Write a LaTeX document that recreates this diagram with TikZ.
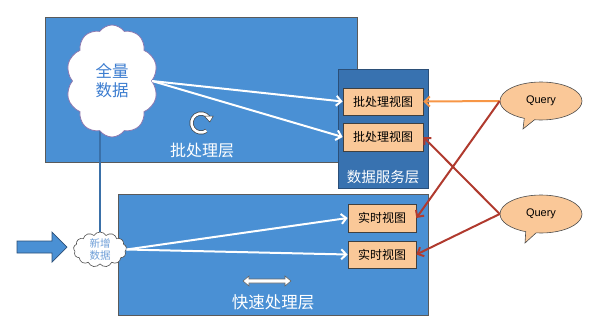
\documentclass[tikz,border=0pt]{standalone}
\usepackage{fontspec}
\setmainfont{Liberation Sans}
\newfontfamily\cjk{Noto Sans CJK SC}
\usetikzlibrary{shapes.symbols,shapes.callouts,arrows.meta}
\definecolor{layerblue}{HTML}{4A90D4}
\definecolor{layerborder}{HTML}{5A5A5A}
\definecolor{servblue}{HTML}{3872B0}
\definecolor{servborder}{HTML}{2B4F78}
\definecolor{peach}{HTML}{FAC898}
\definecolor{qred}{HTML}{B03A2E}
\definecolor{qorange}{HTML}{F79646}
\definecolor{cloudtext}{HTML}{3C7DD0}
\definecolor{smalltext}{HTML}{6F9FD8}
\definecolor{linkblue}{HTML}{3A70A8}
\definecolor{cloudborder}{HTML}{8C78B0}
\pgfdeclarelayer{back}
\pgfdeclarelayer{mid}
\pgfsetlayers{back,mid,main}
\tikzset{
  layer/.style={draw=layerborder, fill=layerblue, line width=0.8pt, anchor=north west, inner sep=0},
  service/.style={draw=servborder, fill=servblue, line width=0.8pt, anchor=north west, inner sep=0},
  view/.style={draw=black!75, fill=peach, line width=0.7pt, inner sep=0, font=\cjk\fontsize{12}{14}\selectfont},
  layertext/.style={text=white, inner sep=0},
  query/.style={ellipse callout, draw=black!70, fill=peach, line width=0.6pt, minimum width=82pt, minimum height=38pt, inner sep=0, font=\fontsize{11}{13}\selectfont},
  whitearrow/.style={draw=white, line width=2pt, -{Straight Barb[length=5pt,width=10pt]}},
  redarrow/.style={draw=qred, line width=2pt, -{Straight Barb[length=5pt,width=10pt]}},
  orangearrow/.style={draw=qorange, line width=2pt, -{Straight Barb[length=5pt,width=10pt]}},
}
\begin{document}
\begin{tikzpicture}[x=1pt,y=-1pt]
\useasboundingbox (0,0) rectangle (600,333);
\begin{pgfonlayer}{back}
\node[layer, minimum width=312pt, minimum height=145pt] (batch) at (45,17) {};
\node[layer, minimum width=310pt, minimum height=121pt] (speed) at (118,194) {};
\end{pgfonlayer}
\node[service, minimum width=90pt, minimum height=119pt] (serv) at (338,69) {};
% views
\node[view, minimum width=80pt, minimum height=27pt] (bv1) at (383,101.5) {批处理视图};
\node[view, minimum width=80pt, minimum height=28pt] (bv2) at (383,137) {批处理视图};
\node[view, minimum width=68pt, minimum height=28pt] (rv1) at (382,218) {实时视图};
\node[view, minimum width=68pt, minimum height=27pt] (rv2) at (382,254.5) {实时视图};
% labels
\node[layertext, font=\cjk\fontsize{16}{18}\selectfont] (batchlabel) at (202,150) {批处理层};
\node[layertext, font=\cjk\fontsize{14.5}{16}\selectfont] (servlabel) at (383,177) {数据服务层};
\node[layertext, font=\cjk\fontsize{16.5}{18}\selectfont] (speedlabel) at (273,302) {快速处理层};
% clouds
\node[cloud, cloud ignores aspect, cloud puffs=10, cloud puff arc=110, draw=cloudborder, fill=white, line width=0.8pt,
      minimum width=92pt, minimum height=112pt, inner sep=0, align=center, text=cloudtext,
      font=\cjk\fontsize{16.5}{19}\selectfont] (full) at (112,81) {全量\\数据};
\node[cloud, cloud ignores aspect, cloud puffs=13, cloud puff arc=120, draw=black!70, fill=white, line width=0.6pt,
      minimum width=53pt, minimum height=35pt, inner sep=0, align=center, text=smalltext,
      font=\cjk\fontsize{10.5}{12}\selectfont] (incr) at (100,249.5) {新增\\数据};
% vertical link
\begin{pgfonlayer}{mid}
\draw[linkblue, line width=2.5pt] (incr.center) -- (incr.center |- full.center);
\end{pgfonlayer}
% input arrow
\coordinate (intip) at (67,247);
\draw[fill=layerblue, draw=servborder, line width=0.7pt]
  (17,241) -- (52,241) -- (52,232) -- (intip) -- (52,262) -- (52,253) -- (17,253) -- cycle;
% rotate symbol
\coordinate (rot) at (201,123);
\draw[black!75, line width=4pt] (rot) ++(-35:9.5) arc[start angle=-35, end angle=-305, radius=9.5];
\draw[white, line width=2.6pt] (rot) ++(-35:9.5) arc[start angle=-35, end angle=-305, radius=9.5];
\filldraw[fill=white, draw=black!75, line width=0.5pt] (rot) ++(-35:9.5) ++(-4.5,-1.5) -- ++(9,0) -- ++(-3.5,6) -- cycle;
% double arrow
\draw[fill=white, draw=black!60, line width=0.6pt]
  (243,281) -- (249,276) -- (249,279) -- (285,279) -- (285,276) -- (291,281) -- (285,286) -- (285,283) -- (249,283) -- (249,286) -- cycle;
% queries
\node[query, callout absolute pointer={(523,129)}] (q1) at (541,101) {Query};
\node[query, callout absolute pointer={(525,243)}] (q2) at (541,214) {Query};
% white arrows
\draw[whitearrow] (full.east) -- (bv1.west);
\draw[whitearrow] (full.east) -- (bv2.west);
\draw[whitearrow] (incr.east) -- (rv1.west);
\draw[whitearrow] (incr.east) -- (rv2.west);
% query arrows
\draw[orangearrow] (q1.west) -- (bv1.east);
\draw[redarrow] (q1.west) -- (rv1.east);
\draw[redarrow] (q2.west) -- (bv2.east);
\draw[redarrow] (q2.west) -- (rv2.east);
\end{tikzpicture}
\end{document}
